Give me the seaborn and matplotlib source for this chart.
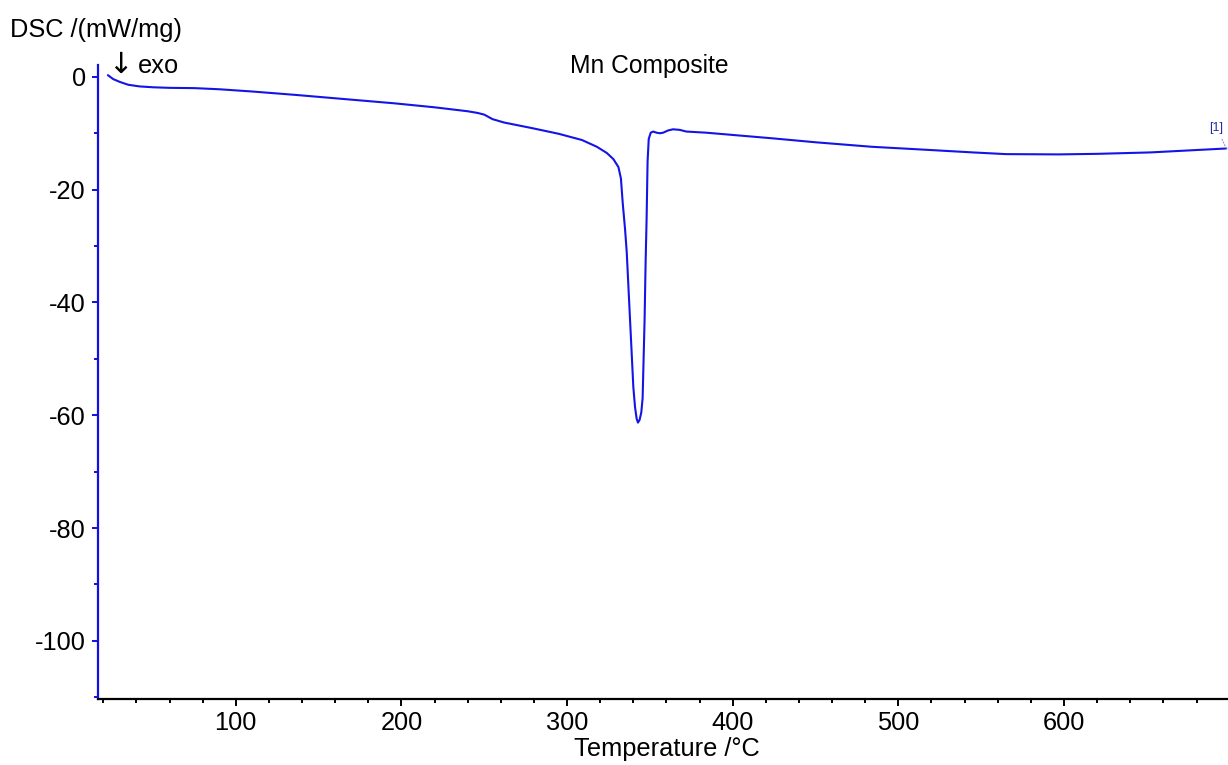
import matplotlib
matplotlib.use("Agg")
import matplotlib.pyplot as plt
from matplotlib.ticker import MultipleLocator
import seaborn as sns
import pandas as pd

# ---- data ----
temp = [22.8, 26, 30, 35, 42, 50, 60, 75, 90, 110, 136, 160, 196, 220, 240, 246,
        250, 255, 262, 279, 295, 309, 318, 324, 328, 331, 332.5, 333.6, 335, 336,
        337, 338, 339, 340, 341, 342, 342.8, 343.8, 344.8, 345.6, 346.2, 346.8,
        347.4, 348, 348.6, 349.3, 350.5, 352, 354, 356, 358, 361, 364, 368, 372,
        384, 400, 424, 450, 484, 515, 545, 565, 597, 620, 652, 675, 698]
dsc = [0.3, -0.4, -0.9, -1.4, -1.7, -1.85, -1.95, -2.0, -2.2, -2.6, -3.2, -3.8,
       -4.7, -5.4, -6.1, -6.4, -6.7, -7.5, -8.1, -9.1, -10.1, -11.2, -12.4, -13.5,
       -14.6, -16.0, -18.0, -22.4, -27.0, -31.0, -37.0, -43.0, -49.0, -55.0, -58.5,
       -60.6, -61.3, -60.8, -59.5, -57.0, -50.0, -43.0, -33.0, -25.4, -15.0, -11.0,
       -9.9, -9.7, -9.9, -10.0, -9.9, -9.5, -9.3, -9.4, -9.7, -9.9, -10.3, -10.9,
       -11.6, -12.4, -12.9, -13.4, -13.7, -13.75, -13.65, -13.4, -13.05, -12.7]
x_ticks = [100, 200, 300, 400, 500, 600]
y_ticks = [0, -20, -40, -60, -80, -100]
title = "Mn Composite"
x_label = "Temperature /°C"
y_label = "DSC /(mW/mg)"
curve_label = "[1]"

df = pd.DataFrame({"Temperature": temp, "DSC": dsc})

sns.set_style("ticks")
plt.rcParams["font.family"] = ["Liberation Sans", "DejaVu Sans"]
plt.rcParams["axes.unicode_minus"] = False
plt.rcParams["text.color"] = "black"

FS = 18.3
W, H = 1228, 765
fig = plt.figure(figsize=(W / 100, H / 100), dpi=100)
ax = fig.add_axes([98.3 / W, 1 - 699 / H, 1 - 98.3 / W, (699 - 65) / H])

line_color = "#1414e6"
sns.lineplot(data=df, x="Temperature", y="DSC", ax=ax, color=line_color,
             linewidth=1.5, sort=False, estimator=None)

ax.set_xlim(17, 699)
ax.set_ylim(-110.3, 2.1)
ax.set_xticks(x_ticks)
ax.set_yticks(y_ticks)
ax.xaxis.set_minor_locator(MultipleLocator(20))
ax.yaxis.set_minor_locator(MultipleLocator(10))

for s in ["top", "right"]:
    ax.spines[s].set_visible(False)
ax.spines["left"].set_color("#1010e0")
ax.spines["left"].set_linewidth(1.6)
ax.spines["bottom"].set_color("black")
ax.spines["bottom"].set_linewidth(1.6)

ax.tick_params(axis="y", which="major", direction="out", length=4, width=1.4,
               color="#1010e0", labelsize=FS, pad=5, labelcolor="black")
ax.tick_params(axis="y", which="minor", direction="out", length=3, width=1.4,
               color="#1010e0")
ax.tick_params(axis="x", which="major", direction="out", length=5, width=1.4,
               color="black", labelsize=FS, pad=4, labelcolor="black")
ax.tick_params(axis="x", which="minor", direction="out", length=3, width=1.4,
               color="black")

ax.set_xlabel(x_label, fontsize=FS, color="black")
ax.xaxis.set_label_coords(0.503, -0.060)
ax.set_ylabel("")

fig.text(10 / W, 1 - 30 / H, y_label, fontsize=FS, ha="left", va="center")
fig.text(649 / W, 1 - 66 / H, title, fontsize=FS * 0.97, ha="center", va="center")
fig.text(108 / W, 1 - 65 / H, "↓", fontsize=21, ha="left", va="center",
         family=["DejaVu Sans"])
fig.text(138 / W, 1 - 66 / H, "exo", fontsize=FS, ha="left", va="center")

ax.annotate(curve_label, xy=(temp[-1], dsc[-1]), xytext=(692, -9.0),
            fontsize=9, color="#2a2aa0", ha="center", va="center",
            arrowprops=dict(arrowstyle="-", linestyle=":", color="#9090c8",
                            linewidth=0.8, shrinkA=2, shrinkB=0),
            annotation_clip=False)

fig.savefig("out.png", dpi=100)
